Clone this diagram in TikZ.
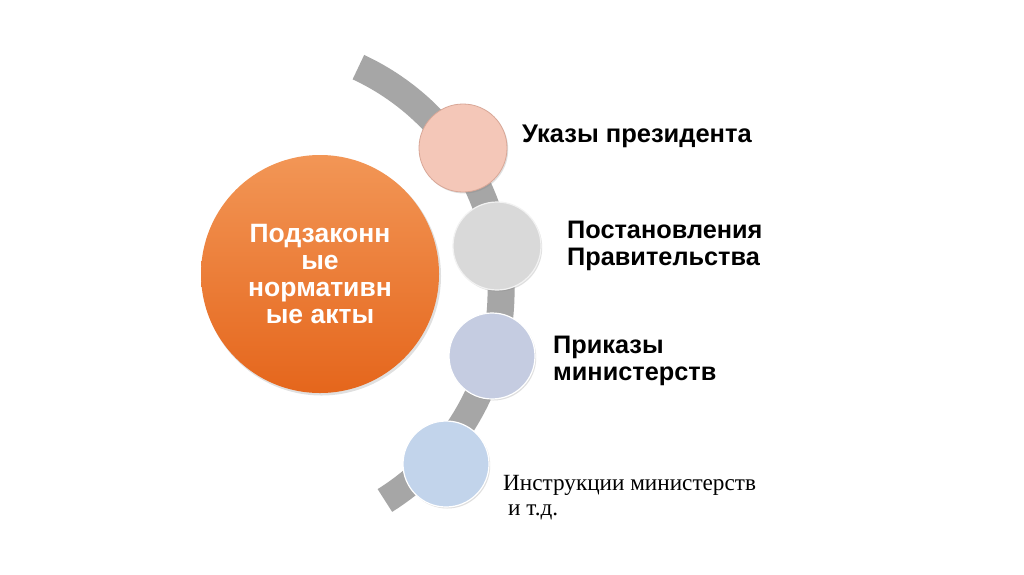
\documentclass[tikz,border=0pt]{standalone}
\usepackage{fontspec}
\setmainfont{Liberation Sans}
\newfontfamily\serifru{Liberation Serif}
\usetikzlibrary{shadows}
\definecolor{bandgray}{HTML}{A6A6A6}
\definecolor{orangetop}{HTML}{F29656}
\definecolor{orangebot}{HTML}{E5661C}
\definecolor{pinkfill}{HTML}{F4C7B8}
\definecolor{pinkline}{HTML}{D8A797}
\definecolor{grayfill}{HTML}{D9D9D9}
\definecolor{lilacfill}{HTML}{C5CCE1}
\definecolor{bluefill}{HTML}{C2D4EB}
\tikzset{
  bead/.style={circle, minimum size=#1, inner sep=0pt, draw=white, line width=1.2pt,
    drop shadow={opacity=0.25, shadow xshift=1.2pt, shadow yshift=-1.5pt}},
  lbl/.style={anchor=base west, inner sep=0pt, align=left,
    font=\bfseries\fontsize{25.3}{26.5}\selectfont},
}
\begin{document}
\begin{tikzpicture}[x=1pt,y=-1pt]
\useasboundingbox[fill=white] (0,0) rectangle (1024,574);
% band
\draw[bandgray, line width=27pt] (254,291) ++(-65:247) arc[start angle=-65, end angle=58, radius=247];
% main circle
\begin{scope}[yscale=-1]
\fill[black, opacity=0.12] (321.5,-276) circle[radius=119.5pt];
\shade[top color=orangetop, bottom color=orangebot] (320,-274) circle[radius=119pt];
\end{scope}
\node[circle, minimum size=238pt, inner sep=0pt,
  text=white, align=center, font=\bfseries\fontsize{26.5}{27}\selectfont] (main) at (320,274)
  {Подзаконн\\ые\\нормативн\\ые акты};
% beads
\node[bead=88pt, fill=pinkfill, draw=pinkline, line width=0.8pt] (b1) at (463,148) {};
\node[bead=88pt, fill=grayfill, draw=white!90!gray] (b2) at (497,246) {};
\node[bead=86pt, fill=lilacfill] (b3) at (492,356) {};
\node[bead=86pt, fill=bluefill] (b4) at (446,464) {};
% labels
\node[lbl, font=\bfseries\fontsize{25.5}{29}\selectfont] (t1) at (522,142) {Указы президента};
\node[lbl] (t2) at (567,265) {Постановления\\Правительства};
\node[lbl] (t3) at (553,380) {Приказы\\министерств};
\node[anchor=base west, inner sep=0pt, align=left, font=\serifru\fontsize{23.2}{25}\selectfont] (t4) at (503,515)
  {Инструкции министерств\\\hspace*{5pt}и т.д.};
\end{tikzpicture}
\end{document}
